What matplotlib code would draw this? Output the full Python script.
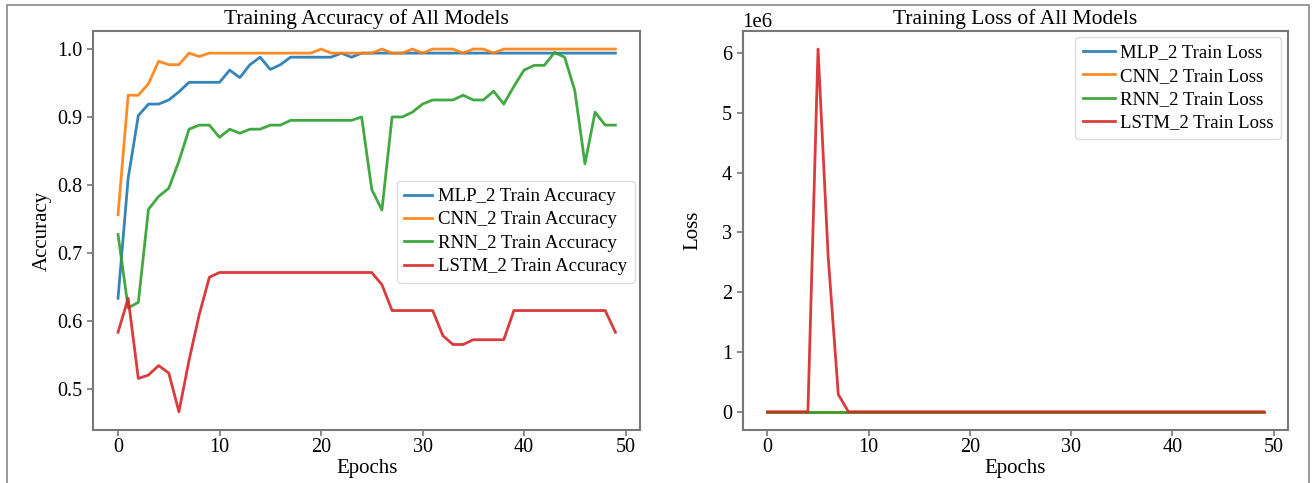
import matplotlib
matplotlib.use("Agg")
import matplotlib.pyplot as plt
from matplotlib.patches import Rectangle

plt.rcParams['font.family'] = ['Liberation Serif', 'DejaVu Serif']

epochs = list(range(50))

mlp_acc = [0.633, 0.810, 0.902, 0.919, 0.919, 0.925, 0.937, 0.951, 0.951, 0.951,
           0.951, 0.969, 0.958, 0.977, 0.988, 0.970, 0.977, 0.988, 0.988, 0.988,
           0.988, 0.988, 0.994, 0.988, 0.994, 0.994, 0.994, 0.994, 0.994, 0.994,
           0.994, 0.994, 0.994, 0.994, 0.994, 0.994, 0.994, 0.994, 0.994, 0.994,
           0.994, 0.994, 0.994, 0.994, 0.994, 0.994, 0.994, 0.994, 0.994, 0.994]
cnn_acc = [0.756, 0.932, 0.932, 0.949, 0.982, 0.977, 0.977, 0.994, 0.989, 0.994,
           0.994, 0.994, 0.994, 0.994, 0.994, 0.994, 0.994, 0.994, 0.994, 0.994,
           1.000, 0.994, 0.994, 0.994, 0.994, 0.994, 1.000, 0.994, 0.994, 1.000,
           0.994, 1.000, 1.000, 1.000, 0.994, 1.000, 1.000, 0.994, 1.000, 1.000,
           1.000, 1.000, 1.000, 1.000, 1.000, 1.000, 1.000, 1.000, 1.000, 1.000]
rnn_acc = [0.727, 0.619, 0.627, 0.764, 0.783, 0.795, 0.835, 0.882, 0.888, 0.888,
           0.870, 0.882, 0.876, 0.882, 0.882, 0.888, 0.888, 0.895, 0.895, 0.895,
           0.895, 0.895, 0.895, 0.895, 0.900, 0.793, 0.763, 0.900, 0.900, 0.907,
           0.919, 0.925, 0.925, 0.925, 0.932, 0.925, 0.925, 0.938, 0.919, 0.945,
           0.969, 0.976, 0.976, 0.995, 0.988, 0.939, 0.831, 0.907, 0.888, 0.888]
lstm_acc = [0.583, 0.633, 0.515, 0.520, 0.534, 0.523, 0.466, 0.542, 0.609, 0.664,
            0.671, 0.671, 0.671, 0.671, 0.671, 0.671, 0.671, 0.671, 0.671, 0.671,
            0.671, 0.671, 0.671, 0.671, 0.671, 0.671, 0.653, 0.615, 0.615, 0.615,
            0.615, 0.615, 0.578, 0.565, 0.565, 0.572, 0.572, 0.572, 0.572, 0.615,
            0.615, 0.615, 0.615, 0.615, 0.615, 0.615, 0.615, 0.615, 0.615, 0.583]

mlp_loss = [0.66, 0.45, 0.30, 0.24, 0.21, 0.19, 0.17, 0.15, 0.14, 0.13,
            0.12, 0.11, 0.10, 0.09, 0.08, 0.08, 0.07, 0.07, 0.06, 0.06,
            0.05, 0.05, 0.05, 0.04, 0.04, 0.04, 0.04, 0.03, 0.03, 0.03,
            0.03, 0.03, 0.03, 0.02, 0.02, 0.02, 0.02, 0.02, 0.02, 0.02,
            0.02, 0.02, 0.02, 0.02, 0.01, 0.01, 0.01, 0.01, 0.01, 0.01]
cnn_loss = [0.55, 0.20, 0.15, 0.12, 0.08, 0.07, 0.06, 0.04, 0.04, 0.03,
            0.03, 0.03, 0.03, 0.02, 0.02, 0.02, 0.02, 0.02, 0.02, 0.02,
            0.01, 0.01, 0.01, 0.01, 0.01, 0.01, 0.01, 0.01, 0.01, 0.01,
            0.01, 0.01, 0.01, 0.01, 0.01, 0.01, 0.01, 0.01, 0.01, 0.01,
            0.01, 0.01, 0.01, 0.01, 0.01, 0.01, 0.01, 0.01, 0.01, 0.01]
rnn_loss = [0.60, 0.66, 0.64, 0.52, 0.48, 0.46, 0.41, 0.33, 0.31, 0.30,
            0.31, 0.30, 0.30, 0.29, 0.29, 0.28, 0.28, 0.27, 0.27, 0.27,
            0.27, 0.27, 0.27, 0.27, 0.26, 0.45, 0.52, 0.27, 0.26, 0.25,
            0.23, 0.22, 0.22, 0.21, 0.20, 0.21, 0.21, 0.19, 0.22, 0.17,
            0.12, 0.10, 0.10, 0.05, 0.06, 0.16, 0.40, 0.25, 0.28, 0.28]
lstm_loss = [0.68, 0.65, 0.70, 0.69, 0.69, 6.07e6, 2.60e6, 0.29e6, 0.69, 0.64,
             0.63, 0.63, 0.63, 0.63, 0.63, 0.63, 0.63, 0.63, 0.63, 0.63,
             0.63, 0.63, 0.63, 0.63, 0.63, 0.63, 0.64, 0.66, 0.66, 0.66,
             0.66, 0.66, 0.68, 0.68, 0.68, 0.68, 0.68, 0.68, 0.68, 0.66,
             0.66, 0.66, 0.66, 0.66, 0.66, 0.66, 0.66, 0.66, 0.66, 0.67]

model_names = ["MLP_2", "CNN_2", "RNN_2", "LSTM_2"]
colors = ["#1f77b4", "#ff7f0e", "#2ca02c", "#d62728"]

fig = plt.figure(figsize=(13.12, 4.83), dpi=100)
ax1 = fig.add_axes([0.071, 0.110, 0.417, 0.826])
ax2 = fig.add_axes([0.566, 0.110, 0.416, 0.826])

for data, name, c in zip([mlp_acc, cnn_acc, rnn_acc, lstm_acc], model_names, colors):
    ax1.plot(epochs, data, color=c, lw=2, alpha=0.9, label=f"{name} Train Accuracy")
for data, name, c in zip([mlp_loss, cnn_loss, rnn_loss, lstm_loss], model_names, colors):
    ax2.plot(epochs, data, color=c, lw=2, alpha=0.9, label=f"{name} Train Loss")

ax1.set_title("Training Accuracy of All Models", fontsize=15.5, pad=5)
ax2.set_title("Training Loss of All Models", fontsize=15.5, pad=5)
ax1.set_xlabel("Epochs", fontsize=15, labelpad=1)
ax1.set_ylabel("Accuracy", fontsize=15)
ax2.set_xlabel("Epochs", fontsize=15, labelpad=1)
ax2.set_ylabel("Loss", fontsize=15, labelpad=14)
ax1.set_yticks([0.5, 0.6, 0.7, 0.8, 0.9, 1.0])
ax1.set_xticks([0, 10, 20, 30, 40, 50])
ax2.set_xticks([0, 10, 20, 30, 40, 50])

for ax in (ax1, ax2):
    ax.tick_params(labelsize=14.5, color="#777777", length=4, width=1.2)
    ax.tick_params(axis="x", pad=2)
    for sp in ax.spines.values():
        sp.set_color("#777777")
        sp.set_linewidth(1.5)
ax2.yaxis.get_offset_text().set_fontsize(15)

ax1.legend(loc="upper left", bbox_to_anchor=(0.555, 0.625), fontsize=13.5,
           handlelength=1.5, labelspacing=0.33, borderpad=0.4, handletextpad=0.3,
           borderaxespad=0.0, edgecolor="#dddddd", framealpha=1)
ax2.legend(loc="upper right", bbox_to_anchor=(0.987, 0.985), fontsize=13.5,
           handlelength=1.7, labelspacing=0.33, borderpad=0.4, handletextpad=0.3,
           borderaxespad=0.0, edgecolor="#dddddd", framealpha=1)

fig.patches.append(Rectangle((0.005, -0.01), 0.993, 1.0, transform=fig.transFigure,
                             fill=False, edgecolor="#888888", lw=1.2))

fig.savefig("out.png", dpi=100)
